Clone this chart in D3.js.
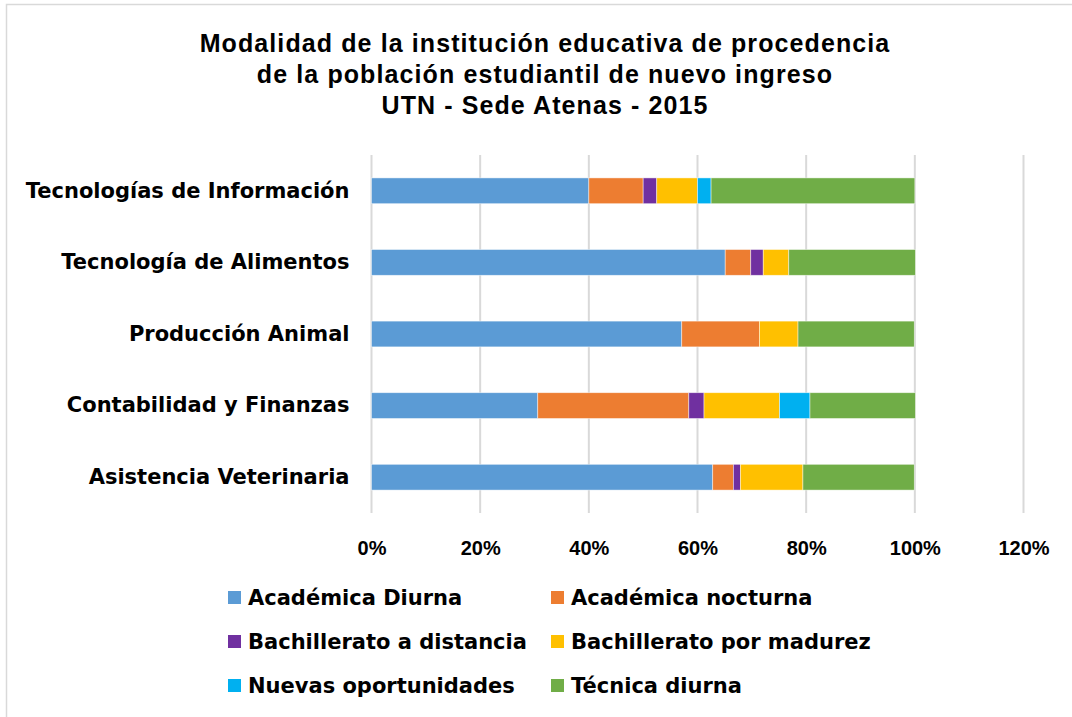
<!DOCTYPE html>
<html>
<head>
<meta charset="utf-8">
<script src="https://cdn.jsdelivr.net/npm/d3@7"></script>
<style>
  body { margin: 0; background: #fff; }
  text { fill: #000; font-weight: bold; }
</style>
</head>
<body>
<div id="chart"></div>
<script>
// data (percent of each career)
const categories = [
    'Tecnologías de Información',
    'Tecnología de Alimentos',
    'Producción Animal',
    'Contabilidad y Finanzas',
    'Asistencia Veterinaria',
];
const seriesNames = [
    'Académica Diurna',
    'Académica nocturna',
    'Bachillerato a distancia',
    'Bachillerato por madurez',
    'Nuevas oportunidades',
    'Técnica diurna',
];
const academicaDiurna = [40.0, 65.1, 57.1, 30.6, 62.8];
const academicaNocturna = [10.0, 4.7, 14.3, 27.8, 3.8];
const bachDistancia = [2.5, 2.3, 0, 2.8, 1.3];
const bachMadurez = [7.5, 4.7, 7.1, 13.9, 11.5];
const nuevasOportunidades = [2.5, 0, 0, 5.6, 0];
const tecnicaDiurna = [37.5, 23.3, 21.4, 19.4, 20.5];
const tickValues = [0, 20, 40, 60, 80, 100, 120];
const titleLines = [
    'Modalidad de la institución educativa de procedencia',
    'de la población estudiantil de nuevo ingreso',
    'UTN - Sede Atenas - 2015',
];

const colors = ['#5B9BD5', '#ED7D31', '#7030A0', '#FFC000', '#00B0F0', '#70AD47'];
const seriesValues = [academicaDiurna, academicaNocturna, bachDistancia,
    bachMadurez, nuevasOportunidades, tecnicaDiurna];

const width = 1072;
const height = 717;
const margin = { top: 155, right: 49, bottom: 204, left: 371.5 };

const rows = categories.map((c, i) => {
    const row = { category: c };
    seriesNames.forEach((s, j) => { row[s] = seriesValues[j][i]; });
    return row;
});

const svg = d3.select('#chart')
    .append('svg')
    .attr('width', width)
    .attr('height', height);

// outer chart border
svg.append('rect')
    .attr('x', 6.5).attr('y', 4.5)
    .attr('width', width + 10).attr('height', height + 10)
    .attr('fill', 'none')
    .attr('stroke', '#d9d9d9')
    .attr('stroke-width', 1.5);

// title
svg.append('g')
    .selectAll('text')
    .data(titleLines)
    .join('text')
    .attr('x', 545)
    .attr('y', (d, i) => 52 + i * 31)
    .attr('text-anchor', 'middle')
    .style('font-family', 'Liberation Sans, Arial, sans-serif')
    .style('font-size', '25px')
    .style('letter-spacing', '1.1px')
    .text(d => d);

const x = d3.scaleLinear()
    .domain([0, 120])
    .range([margin.left, width - margin.right + 0.5]);

const y = d3.scaleBand()
    .domain(categories)
    .range([margin.top, height - margin.bottom])
    .paddingInner(0.64)
    .paddingOuter(0.32);

// gridlines
svg.append('g')
    .selectAll('line')
    .data(tickValues)
    .join('line')
    .attr('x1', d => x(d)).attr('x2', d => x(d))
    .attr('y1', margin.top).attr('y2', height - margin.bottom)
    .attr('stroke', '#d9d9d9')
    .attr('stroke-width', 2);

// stacked bars
const stack = d3.stack().keys(seriesNames);
const layers = stack(rows);

svg.append('g')
    .selectAll('g')
    .data(layers)
    .join('g')
    .attr('fill', (d, i) => colors[i])
    .selectAll('rect')
    .data(d => d.filter(p => p[1] - p[0] > 0))
    .join('rect')
    .attr('x', d => x(d[0]))
    .attr('width', d => x(d[1]) - x(d[0]))
    .attr('y', d => y(d.data.category))
    .attr('height', y.bandwidth())
    .attr('stroke', '#ffffff')
    .attr('stroke-opacity', 0.6)
    .attr('stroke-width', 0.75);

// x axis labels
const xAxis = svg.append('g')
    .attr('transform', `translate(0, ${height - margin.bottom})`)
    .call(d3.axisBottom(x).tickValues(tickValues).tickFormat(d => d + '%').tickSize(0).tickPadding(28));
xAxis.select('.domain').remove();
xAxis.selectAll('text')
    .style('font-family', 'Liberation Sans, Arial, sans-serif')
    .style('font-size', '20px')
    .style('font-weight', 'bold');

// y axis labels
const yAxis = svg.append('g')
    .attr('transform', `translate(${margin.left}, 0)`)
    .call(d3.axisLeft(y).tickSize(0).tickPadding(22));
yAxis.select('.domain').remove();
yAxis.selectAll('text')
    .style('font-family', 'DejaVu Sans, sans-serif')
    .style('font-size', '21px')
    .style('font-weight', 'bold');

// legend
const legend = svg.append('g')
    .selectAll('g')
    .data(seriesNames)
    .join('g')
    .attr('transform', (d, i) => `translate(${i % 2 === 0 ? 228 : 551}, ${598 + Math.floor(i / 2) * 44})`);

legend.append('rect')
    .attr('x', 0).attr('y', -7)
    .attr('width', 13).attr('height', 13)
    .attr('fill', (d, i) => colors[i]);

legend.append('text')
    .attr('x', 20)
    .attr('y', 0)
    .attr('dy', '0.35em')
    .style('font-family', 'DejaVu Sans, sans-serif')
    .style('font-size', '21px')
    .text(d => d);
</script>
</body>
</html>
